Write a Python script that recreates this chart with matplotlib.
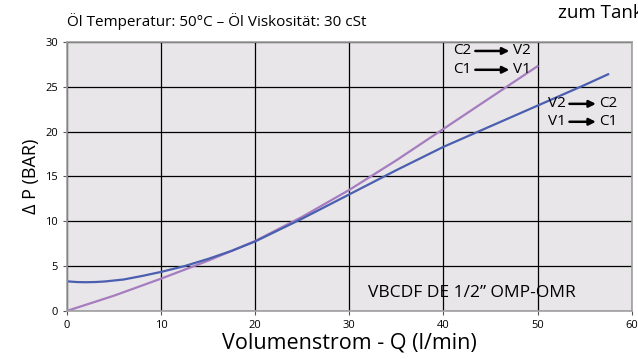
import numpy as np
import matplotlib
matplotlib.use('Agg')
import matplotlib.pyplot as plt

plt.rcParams['font.family'] = ['Open Sans', 'DejaVu Sans']

# V2->C2 / V1->C1 (blaue Kurve)
q_blue = [0, 1, 2, 3, 4, 6, 8, 10, 12.5, 15, 17.5, 20, 25, 30, 35, 40, 45, 50, 55, 57.5]
dp_blue = [3.3, 3.22, 3.2, 3.22, 3.28, 3.5, 3.9, 4.35, 5.0, 5.8, 6.7, 7.75, 10.3, 13.0, 15.7, 18.3, 20.6, 22.9, 25.2, 26.4]
# C2->V2 / C1->V1 (violette Kurve)
q_purple = [0, 5, 10, 15, 20, 25, 30, 35, 40, 45, 50]
dp_purple = [0, 1.7, 3.6, 5.6, 7.8, 10.5, 13.5, 16.8, 20.3, 23.8, 27.3]

fig = plt.figure(figsize=(6.38, 3.59), dpi=100)
ax = fig.add_axes([0.105, 0.134, 0.885, 0.749])
ax.set_facecolor('#e8e6e8')
ax.set_xlim(0, 60)
ax.set_ylim(0, 30)
ax.set_xticks(range(0, 61, 10))
ax.set_yticks(range(0, 31, 5))
ax.grid(True, color='black', linewidth=0.9)
ax.set_axisbelow(True)
for s in ax.spines.values():
    s.set_color('#a0a0a0')
    s.set_linewidth(1.2)
ax.tick_params(labelsize=8, color='#555555', length=3)

ax.plot(q_purple, dp_purple, color='#a57cc0', linewidth=1.6)
ax.plot(q_blue, dp_blue, color='#4b5fb0', linewidth=1.6)

ax.set_xlabel('Volumenstrom - Q (l/min)', fontsize=15.5, labelpad=1)
ax.set_ylabel('Δ P (BAR)', fontsize=13)

# Pfeil-Beschriftungen
def arrow_label(x0, x1, y, left, right):
    ax.text(x0, y, left, fontsize=11, ha='right', va='center')
    ax.annotate('', xy=(x1, y), xytext=(x0 + 0.1, y),
                arrowprops=dict(arrowstyle='-|>', color='black', lw=1.8, mutation_scale=10))
    ax.text(x1 + 0.1, y, right, fontsize=11, ha='left', va='center')

arrow_label(43.0, 47.3, 29.0, 'C2', 'V2')
arrow_label(43.0, 47.3, 26.9, 'C1', 'V1')
arrow_label(53.0, 56.5, 23.1, 'V2', 'C2')
arrow_label(53.0, 56.5, 21.1, 'V1', 'C1')

ax.text(32.0, 2.0, 'VBCDF DE 1/2\u201d OMP-OMR', fontsize=12.5, va='center')

fig.text(0.105, 0.94, 'Öl Temperatur: 50°C \u2013 Öl Viskosität: 30 cSt', fontsize=11, va='center')
fig.text(0.874, 0.965, 'zum Tank', fontsize=13.5, va='center')

plt.savefig('out.png', dpi=100)
